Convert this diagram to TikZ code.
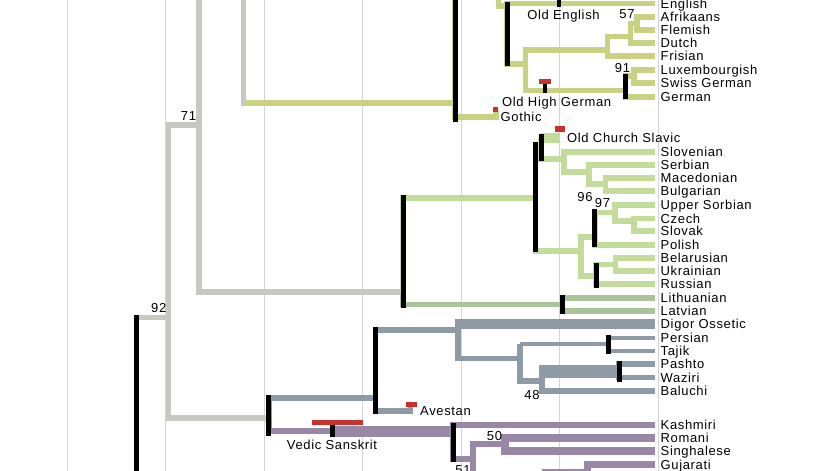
\documentclass[tikz,border=0pt]{standalone}
\usepackage{fontspec}
\newfontfamily\labfont{Liberation Sans}[LetterSpace=5]
\usetikzlibrary{positioning}
\definecolor{ancgray}{HTML}{C8C7C1}
\definecolor{germgreen}{HTML}{C9D283}
\definecolor{slavgreen}{HTML}{C4DC9B}
\definecolor{baltgreen}{HTML}{AAC39B}
\definecolor{iranblue}{HTML}{8E9AA6}
\definecolor{indopurple}{HTML}{9887A5}
\definecolor{datered}{HTML}{C8322D}

\begin{document}
\begin{tikzpicture}[x=1pt,y=-1pt,
  every node/.style={font=\labfont\fontsize{13}{13}\selectfont,inner sep=0pt,
    text height=9.3pt,text depth=0pt},
  grid/.style={draw=black!17,line width=1pt},
  branch/.style={line width=5.8pt,line join=miter},
  anc/.style={branch,draw=ancgray},
  germbr/.style={branch,draw=germgreen},
  slavbr/.style={branch,draw=slavgreen},
  baltbr/.style={branch,draw=baltgreen},
  iranbr/.style={branch,draw=iranblue},
  indobr/.style={branch,draw=indopurple},
  bar/.style={draw=black,line width=5pt},
  dated/.style={fill=datered},
  leaf/.style={anchor=west},
  num/.style={anchor=center}]

  \useasboundingbox (0,0) rectangle (823,471);
  \clip (0,0) rectangle (823,471);

  % Time grid
  \foreach \gx in {67,165.5,264,362.5,461,559.5,658}
    \draw[grid] (\gx,0) -- (\gx,471);

  % Ancestral nodes
  \coordinate (root) at (136.5,520);
  \coordinate (n92) at (168.5,317.5);
  \coordinate (n71) at (199,124.8);
  \coordinate (nwest) at (243.5,-15);

  % Germanic
  \coordinate (germ) at (455,103);
  \coordinate (gothic) at (496,117);
  \coordinate (gothicup) at (496,111);
  \coordinate (nwgerm) at (498.5,-20);
  \coordinate (westg) at (507,6);
  \coordinate (english) at (655,3.5);
  \coordinate (contg) at (525.5,63.7);
  \coordinate (lowg) at (607.5,50);
  \coordinate (n57) at (630.5,36.5);
  \coordinate (afrfl) at (637,23.5);
  \coordinate (afrikaans) at (655,16.7);
  \coordinate (flemish) at (655,30);
  \coordinate (dutch) at (655,43.2);
  \coordinate (frisian) at (655,56.3);
  \coordinate (highg) at (625.5,90.5);
  \coordinate (luxsw) at (634,76);
  \coordinate (luxembourgish) at (655,69.7);
  \coordinate (swissgerman) at (655,82.7);
  \coordinate (german) at (655,96.8);

  % Balto-Slavic
  \coordinate (bsl) at (403.3,291.7);
  \coordinate (slav) at (535.5,198.3);
  \coordinate (ocsS) at (541,148);
  \coordinate (ocs) at (560,138.3);
  \coordinate (south) at (564,159);
  \coordinate (slovenian) at (655,152.3);
  \coordinate (sws) at (589,171.7);
  \coordinate (serbian) at (655,165);
  \coordinate (macbul) at (605.5,184);
  \coordinate (macedonian) at (655,178.3);
  \coordinate (bulgarian) at (655,191);
  \coordinate (n96) at (580.8,251.3);
  \coordinate (westsl) at (594.7,237);
  \coordinate (usczsk) at (615,212.5);
  \coordinate (uppersorbian) at (655,205.2);
  \coordinate (czsk) at (634,221);
  \coordinate (czech) at (655,218.4);
  \coordinate (slovak) at (655,231);
  \coordinate (polish) at (655,245);
  \coordinate (eastsl) at (596,276);
  \coordinate (belukr) at (615.5,264.5);
  \coordinate (belarusian) at (655,257.7);
  \coordinate (ukrainian) at (655,270.9);
  \coordinate (russian) at (655,284.2);
  \coordinate (balt) at (562.5,304.5);
  \coordinate (lithuanian) at (655,297.6);
  \coordinate (latvian) at (655,311);

  % Indo-Iranian
  \coordinate (indoir) at (268.7,418.3);
  \coordinate (iran) at (375.5,398.3);
  \coordinate (avestan) at (410.5,411);
  \coordinate (avestanup) at (410.5,407);
  \coordinate (ossnode) at (458,329.7);
  \coordinate (digor) at (655,324.3);
  \coordinate (n518) at (520,358.5);
  \coordinate (perstaj) at (608.8,344);
  \coordinate (persian) at (655,337.6);
  \coordinate (tajik) at (655,350.8);
  \coordinate (n48) at (542,381);
  \coordinate (pashwaz) at (619,371);
  \coordinate (pashto) at (655,364);
  \coordinate (waziri) at (655,377.5);
  \coordinate (baluchi) at (655,390.8);
  \coordinate (vedic) at (332.5,431);
  \coordinate (indoar) at (453.3,431);
  \coordinate (kashmiri) at (655,425);
  \coordinate (n51) at (473,459);
  \coordinate (n50) at (505,444);
  \coordinate (romani) at (655,438.3);
  \coordinate (singhalese) at (655,451.3);
  \coordinate (n545) at (545,495);
  \coordinate (nguj) at (587,471.5);
  \coordinate (gujarati) at (655,464.8);

  % Ancestral branches
  \draw[anc] (root) |- (n92);
  \draw[anc] (n71) -| (n92) |- (indoir);
  \draw[anc] (nwest) -| (n71) |- (bsl);
  \draw[anc,line cap=rect] (nwest) -- (nwest |- germ);

  % Germanic branches
  \draw[germbr,shorten <=2.9pt] (germ -| nwest) -- (germ);
  \draw[germbr] (nwgerm) -| (germ) |- (gothic) -- (gothicup);
  \draw[germbr] (nwgerm) |- (westg);
  \draw[germbr] (english) -| (westg) |- (contg);
  \draw[germbr] (lowg) -| (contg) |- (highg);
  \draw[germbr] (n57) -| (lowg) |- (frisian);
  \draw[germbr] (afrfl) -| (n57) |- (dutch);
  \draw[germbr] (afrikaans) -| (afrfl) |- (flemish);
  \draw[germbr] (luxsw) -| (highg) |- (german);
  \draw[germbr] (luxembourgish) -| (luxsw) |- (swissgerman);

  % Balto-Slavic branches
  \draw[slavbr] (slav) -| (bsl);
  \draw[baltbr] (bsl) |- (balt);
  \draw[baltbr] (lithuanian) -| (balt) |- (latvian);
  \draw[slavbr] (ocsS) -| (slav) |- (n96);
  \draw[slavbr,line width=10pt] (ocs -| ocsS) -- (ocs);
  \draw[slavbr] (ocs -| ocsS) |- (south);
  \draw[slavbr] (slovenian) -| (south) |- (sws);
  \draw[slavbr] (serbian) -| (sws) |- (macbul);
  \draw[slavbr] (macedonian) -| (macbul) |- (bulgarian);
  \draw[slavbr] (westsl) -| (n96) |- (eastsl);
  \draw[slavbr] (usczsk) -| (westsl) |- (polish);
  \draw[slavbr] (uppersorbian) -| (usczsk) |- (czsk);
  \draw[slavbr] (czech) -| (czsk) |- (slovak);
  \draw[slavbr] (belukr) -| (eastsl) |- (russian);
  \draw[slavbr] (belarusian) -| (belukr) |- (ukrainian);

  % Iranian branches
  \draw[iranbr] (iran) -| (indoir);
  \draw[iranbr] (ossnode) -| (iran) |- (avestan) -- (avestanup);
  \draw[iranbr] (digor -| ossnode) |- (n518);
  \draw[iranbr,line width=10pt,shorten <=-2.9pt] (digor -| ossnode) -- (digor);
  \draw[iranbr] (perstaj -| n518) |- (n48);
  \draw[iranbr,line width=4pt] (perstaj -| n518) -- (perstaj);
  \draw[iranbr,line width=4pt] (persian) -| (perstaj) |- (tajik);
  \draw[iranbr,line width=6pt] (pashwaz -| n48) |- (baluchi);
  \draw[iranbr,line width=13pt,shorten <=-3pt] (pashwaz -| n48) -- (pashwaz);
  \draw[iranbr] (pashto) -| (pashwaz) |- (waziri);

  % Indo-Aryan branches
  \draw[indobr,line width=6pt] (indoir) |- (vedic);
  \draw[indobr,line width=11pt] (vedic) -- (indoar);
  \draw[indobr] (kashmiri) -| (indoar) |- (n51);
  \draw[indobr] (n50) -| (n51) |- (n545);
  \draw[indobr,line width=8pt] (romani) -| (n50) |- (singhalese);
  \draw[indobr] (n545) |- (nguj);
  \draw[indobr,line width=7pt] (gujarati) -| (nguj |- n545);

  % Node bars
  \draw[bar] (136.5,315) -- (136.5,480);
  \draw[bar] (455,-5) -- (455,121.5);
  \draw[bar] (507,2) -- (507,66);
  \draw[bar,line width=4pt] (558.7,-3) -- (558.7,6.7);
  \draw[bar,line width=4pt] (545,84) -- (545,93);
  \draw[bar] (625.5,74) -- (625.5,99);
  \draw[bar] (403.3,195) -- (403.3,308);
  \draw[bar] (535.5,142) -- (535.5,252);
  \draw[bar] (541,134) -- (541,160.5);
  \draw[bar] (562.5,295) -- (562.5,314);
  \draw[bar] (594.7,209) -- (594.7,247);
  \draw[bar] (596,263) -- (596,287.5);
  \draw[bar] (268.7,395) -- (268.7,435.7);
  \draw[bar] (375.5,327) -- (375.5,414);
  \draw[bar] (608.8,335) -- (608.8,354);
  \draw[bar] (619,361) -- (619,382);
  \draw[bar] (453.3,422.7) -- (453.3,461.7);
  \draw[bar,line width=4.5pt] (332.5,425) -- (332.5,437);

  % Dated ancestors
  \fill[dated] (539,79) rectangle (550.5,84.3);
  \fill[dated] (492.7,106.7) rectangle (498.3,112.3);
  \fill[dated] (554.5,126) rectangle (565,132);
  \fill[dated] (406,401.7) rectangle (417,407.3);
  \fill[dated] (312,419.5) rectangle (363,425);

  % Support values
  \node[num] (lab92) at (158.7,308) {92};
  \node[num] (lab71) at (188.5,115.5) {71};
  \node[num] (lab57) at (627,14) {57};
  \node[num] (lab91) at (622.5,67.5) {91};
  \node[num] (lab96) at (585,197) {96};
  \node[num] (lab97) at (602.5,202.5) {97};
  \node[num] (lab48) at (532,395) {48};
  \node[num] (lab50) at (494.5,436) {50};
  \node[num] (lab51) at (463,469.5) {51};

  % Ancient languages
  \node[num] (oldenglish) at (563.5,15) {Old English};
  \node[leaf] (oldhighgerman) at (502,102) {Old High German};
  \node[leaf] (gothiclab) at (500.5,117) {Gothic};
  \node[leaf] (oldchurchslavic) at (567,138.3) {Old Church Slavic};
  \node[leaf] (avestanlab) at (420,411) {Avestan};
  \node[num] (vedicsanskrit) at (332,445) {Vedic Sanskrit};

  % Leaves
  \node[leaf,right=5.5pt of english] (englishlab) {English};
  \node[leaf,right=5.5pt of afrikaans] (afrikaanslab) {Afrikaans};
  \node[leaf,right=5.5pt of flemish] (flemishlab) {Flemish};
  \node[leaf,right=5.5pt of dutch] (dutchlab) {Dutch};
  \node[leaf,right=5.5pt of frisian] (frisianlab) {Frisian};
  \node[leaf,right=5.5pt of luxembourgish] (luxembourgishlab) {Luxembourgish};
  \node[leaf,right=5.5pt of swissgerman] (swissgermanlab) {Swiss German};
  \node[leaf,right=5.5pt of german] (germanlab) {German};
  \node[leaf,right=5.5pt of slovenian] (slovenianlab) {Slovenian};
  \node[leaf,right=5.5pt of serbian] (serbianlab) {Serbian};
  \node[leaf,right=5.5pt of macedonian] (macedonianlab) {Macedonian};
  \node[leaf,right=5.5pt of bulgarian] (bulgarianlab) {Bulgarian};
  \node[leaf,right=5.5pt of uppersorbian] (uppersorbianlab) {Upper Sorbian};
  \node[leaf,right=5.5pt of czech] (czechlab) {Czech};
  \node[leaf,right=5.5pt of slovak] (slovaklab) {Slovak};
  \node[leaf,right=5.5pt of polish] (polishlab) {Polish};
  \node[leaf,right=5.5pt of belarusian] (belarusianlab) {Belarusian};
  \node[leaf,right=5.5pt of ukrainian] (ukrainianlab) {Ukrainian};
  \node[leaf,right=5.5pt of russian] (russianlab) {Russian};
  \node[leaf,right=5.5pt of lithuanian] (lithuanianlab) {Lithuanian};
  \node[leaf,right=5.5pt of latvian] (latvianlab) {Latvian};
  \node[leaf,right=5.5pt of digor] (digorlab) {Digor Ossetic};
  \node[leaf,right=5.5pt of persian] (persianlab) {Persian};
  \node[leaf,right=5.5pt of tajik] (tajiklab) {Tajik};
  \node[leaf,right=5.5pt of pashto] (pashtolab) {Pashto};
  \node[leaf,right=5.5pt of waziri] (wazirilab) {Waziri};
  \node[leaf,right=5.5pt of baluchi] (baluchilab) {Baluchi};
  \node[leaf,right=5.5pt of kashmiri] (kashmirilab) {Kashmiri};
  \node[leaf,right=5.5pt of romani] (romanilab) {Romani};
  \node[leaf,right=5.5pt of singhalese] (singhaleselab) {Singhalese};
  \node[leaf,right=5.5pt of gujarati] (gujaratilab) {Gujarati};
\end{tikzpicture}
\end{document}
